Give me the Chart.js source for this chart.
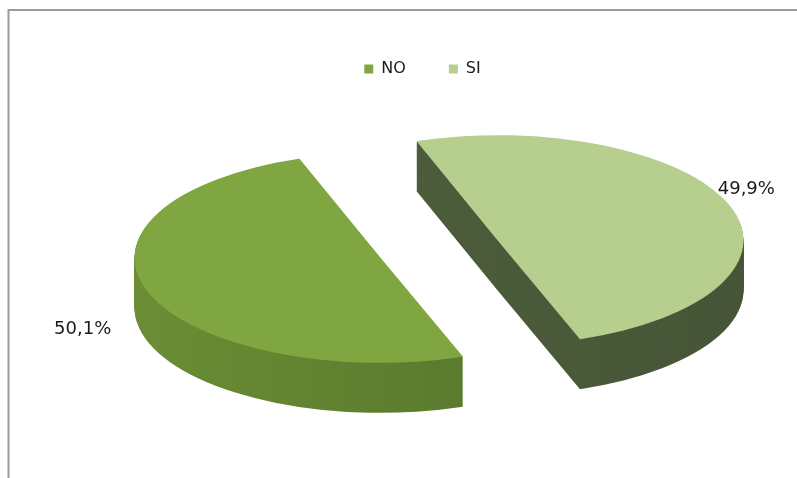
<!DOCTYPE html>
<html>
<head>
<meta charset="utf-8">
<script src="https://cdn.jsdelivr.net/npm/chart.js@4.4.1/dist/chart.umd.min.js"></script>
<style>
  html, body { margin: 0; padding: 0; background: #fff; }
  #wrap { width: 797px; height: 478px; }
</style>
</head>
<body>
<div id="wrap"><canvas id="pie" width="797" height="478"></canvas></div>
<script>
const labels = ['NO', 'SI'];
const values = [50.1, 49.9];
const topColors = ['#80a641', '#b6cf8f'];
const sideColors = [['#6b8d35', '#52722a'], ['#50603c', '#465537']];

// fake 3D: pie squashed vertically, then extruded downwards
const TILT = 0.427;
const DEPTH = 50;
const EXPLODE = 62;
const CENTER = { x: 439, y: 249 };
// where each percentage sits, relative to its slice (degrees, radius factor)
const labelSpots = [{ turn: -10, reach: 1.39 }, { turn: -6, reach: 1.12 }];

// push a slice out along its bisector
function explodeShift(arc) {
    const mid = (arc.startAngle + arc.endAngle) / 2;
    return { dx: Math.cos(mid) * EXPLODE, dy: Math.sin(mid) * EXPLODE };
}

function slicePath(ctx, arc, dy) {
    ctx.beginPath();
    ctx.moveTo(arc.x, arc.y + dy);
    ctx.arc(arc.x, arc.y + dy, arc.outerRadius, arc.startAngle, arc.endAngle);
    ctx.closePath();
}

const pie3d = {
    id: 'pie3d',
    beforeDraw(chart) {
        const ctx = chart.ctx;
        ctx.save();
        ctx.strokeStyle = '#9c9c9c';
        ctx.lineWidth = 2;
        ctx.beginPath();
        ctx.moveTo(8.5, 478);
        ctx.lineTo(8.5, 10);
        ctx.lineTo(797, 10);
        ctx.stroke();
        ctx.restore();
    },
    beforeDatasetsDraw(chart) {
        const ctx = chart.ctx;
        const arcs = chart.getDatasetMeta(0).data;
        const { x, y } = arcs[0];
        ctx.save();
        ctx.translate(CENTER.x, CENTER.y);
        ctx.scale(1, TILT);
        ctx.translate(-x, -y);

        // walls first
        arcs.forEach((arc, i) => {
            const s = explodeShift(arc);
            ctx.save();
            ctx.translate(s.dx, s.dy);
            const g = ctx.createLinearGradient(arc.x - arc.outerRadius, 0, arc.x + arc.outerRadius, 0);
            g.addColorStop(0, sideColors[i][0]);
            g.addColorStop(1, sideColors[i][1]);
            ctx.fillStyle = g;
            for (let d = DEPTH; d > 0; d--) {
                slicePath(ctx, arc, d / TILT);
                ctx.fill();
            }
            ctx.restore();
        });

        // then the tops, drawn by the arc elements themselves
        arcs.forEach(arc => {
            const s = explodeShift(arc);
            ctx.save();
            ctx.translate(s.dx, s.dy);
            arc.draw(ctx);
            ctx.restore();
        });
        ctx.restore();

        // percentages
        ctx.save();
        ctx.font = '18px "DejaVu Sans"';
        ctx.fillStyle = '#1a1a1a';
        ctx.textAlign = 'center';
        ctx.textBaseline = 'middle';
        arcs.forEach((arc, i) => {
            const s = explodeShift(arc);
            const a = (arc.startAngle + arc.endAngle) / 2 + labelSpots[i].turn * Math.PI / 180;
            const px = arc.x + s.dx + Math.cos(a) * arc.outerRadius * labelSpots[i].reach;
            const py = arc.y + s.dy + Math.sin(a) * arc.outerRadius * labelSpots[i].reach;
            const sx = CENTER.x + (px - x);
            const sy = CENTER.y + (py - y) * TILT;
            ctx.fillText(values[i].toFixed(1).replace('.', ',') + '%', sx, sy);
        });
        ctx.restore();
        return false;
    }
};

new Chart(document.getElementById('pie'), {
    type: 'pie',
    data: {
        labels: labels,
        datasets: [{
            data: values,
            backgroundColor: topColors,
            borderWidth: 0,
            hoverOffset: 0,
            radius: 246,
            clip: false
        }]
    },
    options: {
        responsive: false,
        animation: false,
        rotation: 160.4,
        layout: { padding: { top: 18, left: 48 } },
        events: [],
        plugins: {
            legend: {
                position: 'top',
                labels: {
                    boxWidth: 9,
                    boxHeight: 9,
                    padding: 43,
                    color: '#1a1a1a',
                    font: { family: 'DejaVu Sans', size: 16 }
                }
            },
            tooltip: { enabled: false }
        }
    },
    plugins: [pie3d]
});
</script>
</body>
</html>
